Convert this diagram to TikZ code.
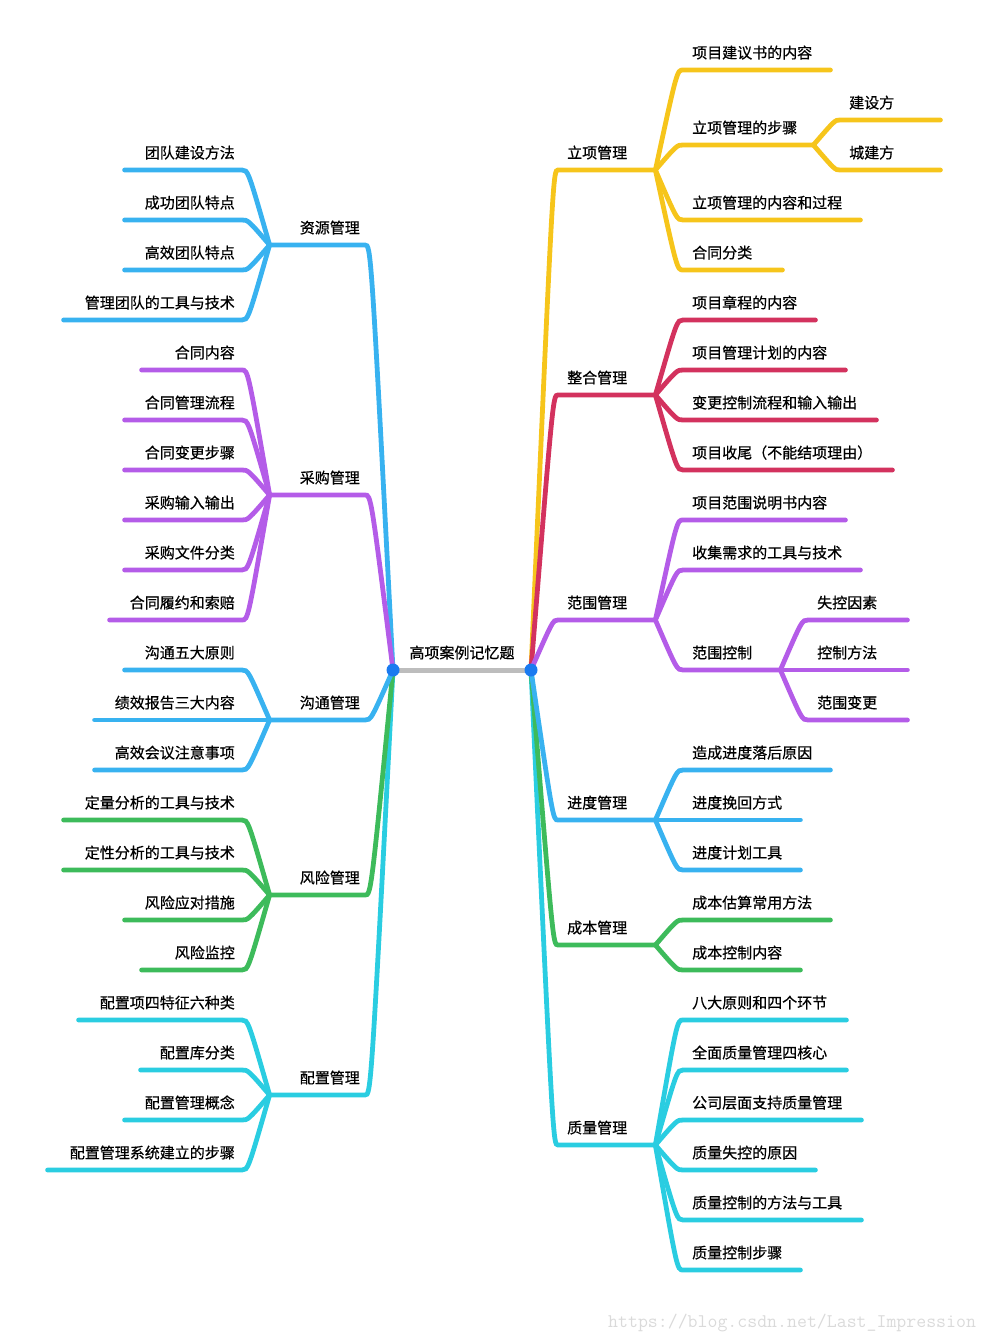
\documentclass[tikz,border=0pt]{standalone}
\usepackage{fontspec}
\newfontfamily\cjk[FakeBold=0.6]{Noto Sans CJK SC}
\definecolor{ylw}{HTML}{F6C51B}
\definecolor{crim}{HTML}{D3325E}
\definecolor{purp}{HTML}{B45CE8}
\definecolor{blu}{HTML}{38B2F0}
\definecolor{grn}{HTML}{3DBB5B}
\definecolor{cyn}{HTML}{2ACDE1}
\definecolor{dotc}{HTML}{1A7AF0}
\definecolor{trunk}{HTML}{BDBDBD}
\definecolor{wmgray}{HTML}{DADADA}
\tikzset{
  bar/.style = {line width=4.8pt, line cap=round},
  lbl/.style = {font=\cjk\fontsize{15}{18}\selectfont, text height=11pt, text depth=0pt, inner ysep=11.5pt},
  rlbl/.style = {lbl, anchor=south west, align=left, inner xsep=9pt},
  llbl/.style = {lbl, anchor=south east, align=right, inner xsep=7pt},
  lmain/.style = {llbl, inner xsep=5pt, text width=85pt}
}
\begin{document}
\begin{tikzpicture}[x=1pt, y=-1pt]
        \useasboundingbox (0,0) rectangle (989,1340);
        %root
        \node [lbl, anchor=south] (root) at (462,670) {高项案例记忆题};
        \coordinate (ldot) at (393,670);
        \coordinate (rdot) at (531,670);

        %立项管理
        \node [rlbl, text width=79pt] (rA) at (558,170) {立项管理};
        \node [rlbl, text width=129pt] (rA1) at (683,70) {项目建议书的内容};
        \node [rlbl, text width=112pt] (rA2) at (683,145) {立项管理的步骤};
        \node [rlbl, text width=82pt] (rA21) at (840,120) {建设方};
        \node [rlbl, text width=82pt] (rA22) at (840,170) {城建方};
        \node [rlbl, text width=159pt] (rA3) at (683,220) {立项管理的内容和过程};
        \node [rlbl, text width=81pt] (rA4) at (683,270) {合同分类};
        %整合管理
        \node [rlbl, text width=79pt] (rB) at (558,395) {整合管理};
        \node [rlbl, text width=114pt] (rB1) at (683,320) {项目章程的内容};
        \node [rlbl, text width=144pt] (rB2) at (683,370) {项目管理计划的内容};
        \node [rlbl, text width=175pt] (rB3) at (683,420) {变更控制流程和输入输出};
        \node [rlbl, text width=191pt] (rB4) at (683,470) {项目收尾（不能结项理由）};
        %范围管理
        \node [rlbl, text width=79pt] (rC) at (558,620) {范围管理};
        \node [rlbl, text width=144pt] (rC1) at (683,520) {项目范围说明书内容};
        \node [rlbl, text width=159pt] (rC2) at (683,570) {收集需求的工具与技术};
        \node [rlbl, text width=79pt] (rC3) at (683,670) {范围控制};
        \node [rlbl, text width=81pt] (rC31) at (808,620) {失控因素};
        \node [rlbl, text width=81pt] (rC32) at (808,670) {控制方法};
        \node [rlbl, text width=81pt] (rC33) at (808,720) {范围变更};
        %进度管理
        \node [rlbl, text width=79pt] (rD) at (558,820) {进度管理};
        \node [rlbl, text width=129pt] (rD1) at (683,770) {造成进度落后原因};
        \node [rlbl, text width=99pt] (rD2) at (683,820) {进度挽回方式};
        \node [rlbl, text width=99pt] (rD3) at (683,870) {进度计划工具};
        %成本管理
        \node [rlbl, text width=79pt] (rE) at (558,945) {成本管理};
        \node [rlbl, text width=129pt] (rE1) at (683,920) {成本估算常用方法};
        \node [rlbl, text width=99pt] (rE2) at (683,970) {成本控制内容};
        %质量管理
        \node [rlbl, text width=79pt] (rF) at (558,1145) {质量管理};
        \node [rlbl, text width=145pt] (rF1) at (683,1020) {八大原则和四个环节};
        \node [rlbl, text width=145pt] (rF2) at (683,1070) {全面质量管理四核心};
        \node [rlbl, text width=160pt] (rF3) at (683,1120) {公司层面支持质量管理};
        \node [rlbl, text width=114pt] (rF4) at (683,1170) {质量失控的原因};
        \node [rlbl, text width=160pt] (rF5) at (683,1220) {质量控制的方法与工具};
        \node [rlbl, text width=99pt] (rF6) at (683,1270) {质量控制步骤};

        %资源管理
        \node [lmain] (lA) at (365,245) {资源管理};
        \node [llbl, text width=103pt] (lA1) at (242,170) {团队建设方法};
        \node [llbl, text width=103pt] (lA2) at (242,220) {成功团队特点};
        \node [llbl, text width=103pt] (lA3) at (242,270) {高效团队特点};
        \node [llbl, text width=164pt] (lA4) at (242,320) {管理团队的工具与技术};
        %采购管理
        \node [lmain] (lB) at (365,495) {采购管理};
        \node [llbl, text width=86pt] (lB1) at (242,370) {合同内容};
        \node [llbl, text width=103pt] (lB2) at (242,420) {合同管理流程};
        \node [llbl, text width=103pt] (lB3) at (242,470) {合同变更步骤};
        \node [llbl, text width=103pt] (lB4) at (242,520) {采购输入输出};
        \node [llbl, text width=103pt] (lB5) at (242,570) {采购文件分类};
        \node [llbl, text width=118pt] (lB6) at (242,620) {合同履约和索赔};
        %沟通管理
        \node [lmain] (lC) at (365,720) {沟通管理};
        \node [llbl, text width=103pt] (lC1) at (242,670) {沟通五大原则};
        \node [llbl, text width=133pt] (lC2) at (242,720) {绩效报告三大内容};
        \node [llbl, text width=133pt] (lC3) at (242,770) {高效会议注意事项};
        %风险管理
        \node [lmain] (lD) at (365,895) {风险管理};
        \node [llbl, text width=164pt] (lD1) at (242,820) {定量分析的工具与技术};
        \node [llbl, text width=164pt] (lD2) at (242,870) {定性分析的工具与技术};
        \node [llbl, text width=103pt] (lD3) at (242,920) {风险应对措施};
        \node [llbl, text width=86pt] (lD4) at (242,970) {风险监控};
        %配置管理
        \node [lmain] (lE) at (365,1095) {配置管理};
        \node [llbl, text width=149pt] (lE1) at (242,1020) {配置项四特征六种类};
        \node [llbl, text width=87pt] (lE2) at (242,1070) {配置库分类};
        \node [llbl, text width=103pt] (lE3) at (242,1120) {配置管理概念};
        \node [llbl, text width=180pt] (lE4) at (242,1170) {配置管理系统建立的步骤};

        %right branches
        \draw [bar, ylw] (rdot) .. controls (553,170) .. (rA.south west) -- (rA.south east);
        \draw [bar, ylw] (rA.south east) .. controls (677,70) .. (rA1.south west) -- (rA1.south east);
        \draw [bar, ylw] (rA.south east) .. controls (677,145) .. (rA2.south west) -- (rA2.south east);
        \draw [bar, ylw] (rA2.south east) .. controls (835,120) .. (rA21.south west) -- (rA21.south east);
        \draw [bar, ylw] (rA2.south east) .. controls (835,170) .. (rA22.south west) -- (rA22.south east);
        \draw [bar, ylw] (rA.south east) .. controls (677,220) .. (rA3.south west) -- (rA3.south east);
        \draw [bar, ylw] (rA.south east) .. controls (677,270) .. (rA4.south west) -- (rA4.south east);

        \draw [bar, crim] (rdot) .. controls (553,395) .. (rB.south west) -- (rB.south east);
        \draw [bar, crim] (rB.south east) .. controls (677,320) .. (rB1.south west) -- (rB1.south east);
        \draw [bar, crim] (rB.south east) .. controls (677,370) .. (rB2.south west) -- (rB2.south east);
        \draw [bar, crim] (rB.south east) .. controls (677,420) .. (rB3.south west) -- (rB3.south east);
        \draw [bar, crim] (rB.south east) .. controls (677,470) .. (rB4.south west) -- (rB4.south east);

        \draw [bar, purp] (rdot) .. controls (553,620) .. (rC.south west) -- (rC.south east);
        \draw [bar, purp] (rC.south east) .. controls (677,520) .. (rC1.south west) -- (rC1.south east);
        \draw [bar, purp] (rC.south east) .. controls (677,570) .. (rC2.south west) -- (rC2.south east);
        \draw [bar, purp] (rC.south east) .. controls (677,670) .. (rC3.south west) -- (rC3.south east);
        \draw [bar, purp] (rC3.south east) .. controls (802,620) .. (rC31.south west) -- (rC31.south east);
        \draw [bar, purp] (rC3.south east) -- (rC32.south west) -- (rC32.south east);
        \draw [bar, purp] (rC3.south east) .. controls (802,720) .. (rC33.south west) -- (rC33.south east);

        \draw [bar, cyn] (rdot) .. controls (553,1145) .. (rF.south west) -- (rF.south east);
        \draw [bar, cyn] (rF.south east) .. controls (677,1020) .. (rF1.south west) -- (rF1.south east);
        \draw [bar, cyn] (rF.south east) .. controls (677,1070) .. (rF2.south west) -- (rF2.south east);
        \draw [bar, cyn] (rF.south east) .. controls (677,1120) .. (rF3.south west) -- (rF3.south east);
        \draw [bar, cyn] (rF.south east) .. controls (677,1170) .. (rF4.south west) -- (rF4.south east);
        \draw [bar, cyn] (rF.south east) .. controls (677,1220) .. (rF5.south west) -- (rF5.south east);
        \draw [bar, cyn] (rF.south east) .. controls (677,1270) .. (rF6.south west) -- (rF6.south east);

        \draw [bar, grn] (rdot) .. controls (553,945) .. (rE.south west) -- (rE.south east);
        \draw [bar, grn] (rE.south east) .. controls (677,920) .. (rE1.south west) -- (rE1.south east);
        \draw [bar, grn] (rE.south east) .. controls (677,970) .. (rE2.south west) -- (rE2.south east);

        \draw [bar, blu] (rdot) .. controls (553,820) .. (rD.south west) -- (rD.south east);
        \draw [bar, blu] (rD.south east) .. controls (677,770) .. (rD1.south west) -- (rD1.south east);
        \draw [bar, blu] (rD.south east) -- (rD2.south west) -- (rD2.south east);
        \draw [bar, blu] (rD.south east) .. controls (677,870) .. (rD3.south west) -- (rD3.south east);

        %left branches
        \draw [bar, blu] (ldot) .. controls (371,245) .. (lA.south east) -- (lA.south west);
        \draw [bar, blu] (lA.south west) .. controls (248,170) .. (lA1.south east) -- (lA1.south west);
        \draw [bar, blu] (lA.south west) .. controls (248,220) .. (lA2.south east) -- (lA2.south west);
        \draw [bar, blu] (lA.south west) .. controls (248,270) .. (lA3.south east) -- (lA3.south west);
        \draw [bar, blu] (lA.south west) .. controls (248,320) .. (lA4.south east) -- (lA4.south west);

        \draw [bar, purp] (ldot) .. controls (371,495) .. (lB.south east) -- (lB.south west);
        \draw [bar, purp] (lB.south west) .. controls (248,370) .. (lB1.south east) -- (lB1.south west);
        \draw [bar, purp] (lB.south west) .. controls (248,420) .. (lB2.south east) -- (lB2.south west);
        \draw [bar, purp] (lB.south west) .. controls (248,470) .. (lB3.south east) -- (lB3.south west);
        \draw [bar, purp] (lB.south west) .. controls (248,520) .. (lB4.south east) -- (lB4.south west);
        \draw [bar, purp] (lB.south west) .. controls (248,570) .. (lB5.south east) -- (lB5.south west);
        \draw [bar, purp] (lB.south west) .. controls (248,620) .. (lB6.south east) -- (lB6.south west);

        \draw [bar, cyn] (ldot) .. controls (371,1095) .. (lE.south east) -- (lE.south west);
        \draw [bar, cyn] (lE.south west) .. controls (248,1020) .. (lE1.south east) -- (lE1.south west);
        \draw [bar, cyn] (lE.south west) .. controls (248,1070) .. (lE2.south east) -- (lE2.south west);
        \draw [bar, cyn] (lE.south west) .. controls (248,1120) .. (lE3.south east) -- (lE3.south west);
        \draw [bar, cyn] (lE.south west) .. controls (248,1170) .. (lE4.south east) -- (lE4.south west);

        \draw [bar, grn] (ldot) .. controls (371,895) .. (lD.south east) -- (lD.south west);
        \draw [bar, grn] (lD.south west) .. controls (248,820) .. (lD1.south east) -- (lD1.south west);
        \draw [bar, grn] (lD.south west) .. controls (248,870) .. (lD2.south east) -- (lD2.south west);
        \draw [bar, grn] (lD.south west) .. controls (248,920) .. (lD3.south east) -- (lD3.south west);
        \draw [bar, grn] (lD.south west) .. controls (248,970) .. (lD4.south east) -- (lD4.south west);

        \draw [bar, blu] (ldot) .. controls (371,720) .. (lC.south east) -- (lC.south west);
        \draw [bar, blu] (lC.south west) .. controls (248,670) .. (lC1.south east) -- (lC1.south west);
        \draw [bar, blu] (lC.south west) -- (lC2.south east) -- (lC2.south west);
        \draw [bar, blu] (lC.south west) .. controls (248,770) .. (lC3.south east) -- (lC3.south west);

        %trunk
        \draw [line width=5pt, trunk] (ldot) -- (rdot);
        \fill [dotc] (ldot) circle (6.5pt);
        \fill [dotc] (rdot) circle (6.5pt);

        %watermark
        \node [anchor=base west, inner sep=0pt, text=wmgray, font=\ttfamily\fontsize{19.3}{19.3}\selectfont] (wm) at (608,1327) {https://blog.csdn.net/Last\_Impression};
    \end{tikzpicture}
\end{document}
